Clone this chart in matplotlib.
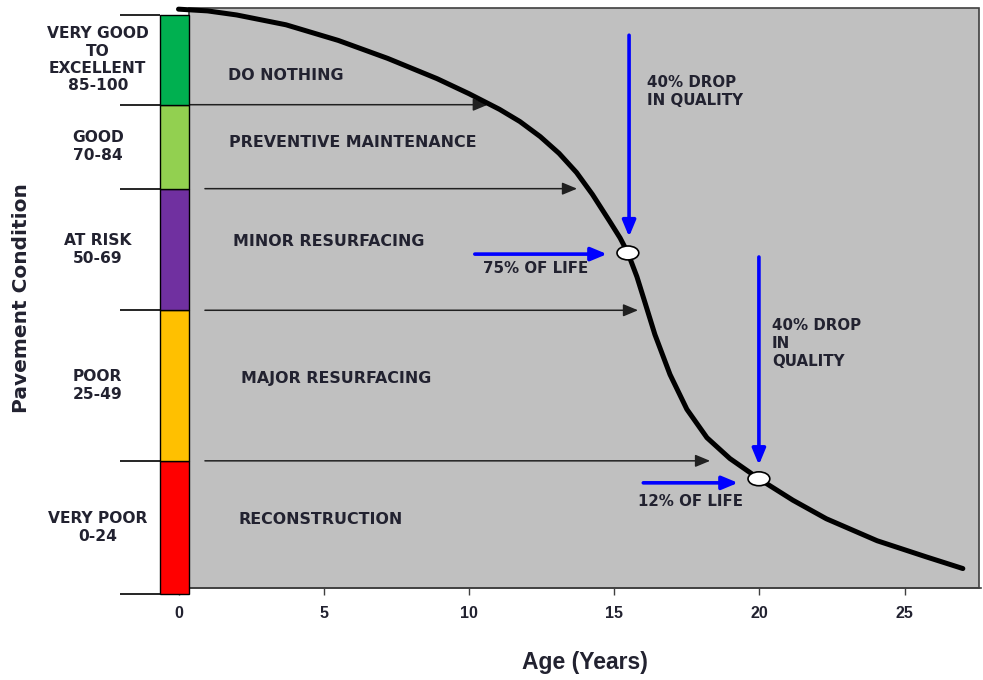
import matplotlib
matplotlib.use("Agg")
import matplotlib.pyplot as plt
from matplotlib.patches import Rectangle, Ellipse

# ---------------- data ----------------
band_edges = [0, 23, 49, 70, 84.5, 100]
band_colors = ["#FF0000", "#FFC000", "#7030A0", "#92D050", "#00B050"]
band_labels = ["VERY POOR\n0-24", "POOR\n25-49", "AT RISK\n50-69",
               "GOOD\n70-84", "VERY GOOD\nTO\nEXCELLENT\n85-100"]
treatments = ["RECONSTRUCTION", "MAJOR RESURFACING", "MINOR RESURFACING",
              "PREVENTIVE MAINTENANCE", "DO NOTHING"]

age = [0.0, 1.0, 2.0, 3.7, 5.5, 7.2, 8.9, 10.0, 11.05, 11.75, 12.45, 13.1,
       13.7, 14.25, 14.85, 15.2, 15.47, 15.78, 16.06, 16.4, 16.92, 17.5,
       18.19, 18.98, 19.98, 21.15, 22.3, 24.05, 25.75, 27.0]
condition = [101.0, 100.7, 100.0, 98.3, 95.6, 92.5, 89.0, 86.4, 83.7, 81.6,
             79.0, 76.1, 72.8, 69.0, 64.3, 61.5, 58.9, 54.8, 50.3, 44.8,
             37.9, 31.9, 27.0, 23.4, 19.9, 16.2, 13.0, 9.2, 6.4, 4.4]

# marked points on curve
mark_age = [15.47, 19.98]
mark_cond = [58.9, 19.9]

# threshold arrows (age at which the curve crosses each band boundary)
thr_cond = [84.5, 70, 49, 23]
thr_start = [0.36, 0.91, 0.91, 0.91]
thr_end = [10.65, 13.72, 15.82, 18.3]

xticks = [0, 5, 10, 15, 20, 25]

# ---------------- layout ----------------
W, H = 983, 680
fig = plt.figure(figsize=(W / 100, H / 100), dpi=100)
ax = fig.add_axes([160 / W, (H - 588) / H, 821 / W, 580 / H])
XMIN, XMAX = -0.637, 27.625
YMIN, YMAX = 1.04, 101.2
ax.set_xlim(XMIN, XMAX)
ax.set_ylim(YMIN, YMAX)
ax.set_facecolor("none")
for s in ["top", "right", "left"]:
    ax.spines[s].set_visible(False)
ax.spines["bottom"].set_bounds(0.36, XMAX)
ax.spines["bottom"].set_color("#404040")
ax.spines["bottom"].set_linewidth(1.2)
ax.set_yticks([])

GRAY_X0 = 0.36
ax.add_patch(Rectangle((GRAY_X0, YMIN), XMAX - GRAY_X0 - 0.08, YMAX - YMIN,
                       facecolor="#C0C0C0", edgecolor="#404040", lw=1.2,
                       zorder=0.5, clip_on=False))

TXT = "#222230"
FONT = "DejaVu Sans"
# colour bands
BAR_X0 = XMIN
for i in range(len(band_colors)):
    lo, hi = band_edges[i], band_edges[i + 1]
    ax.add_patch(Rectangle((BAR_X0, lo), GRAY_X0 - BAR_X0, hi - lo,
                           facecolor=band_colors[i], edgecolor="black",
                           lw=1.0, zorder=5, clip_on=False))
    ax.text(-2.78, (lo + hi) / 2, band_labels[i], ha="center", va="center",
            fontsize=11.2, fontweight="bold", color=TXT, linespacing=1.2,
            family=FONT, clip_on=False)
ax.hlines(band_edges, -2.01, BAR_X0, colors="black", lw=1.2, clip_on=False,
          zorder=5)

# treatment labels
treat_x = [2.08, 2.15, 1.88, 1.74, 1.71]
treat_y = [12.8, 37.3, 60.8, 77.9, 89.5]
for t, tx, ty in zip(treatments, treat_x, treat_y):
    ax.text(tx, ty, t, ha="left", va="center", fontsize=11.4,
            fontweight="bold", color=TXT, family=FONT)

# threshold arrows
for c, x0, x1 in zip(thr_cond, thr_start, thr_end):
    ax.annotate("", xy=(x1, c), xytext=(x0, c),
                arrowprops=dict(arrowstyle="-|>,head_length=0.6,head_width=0.25",
                                mutation_scale=15, lw=1.1, color="#202020",
                                shrinkA=0, shrinkB=0), zorder=2)

# deterioration curve
ax.plot(age, condition, color="black", lw=3.6, solid_capstyle="round",
        solid_joinstyle="round", zorder=3, clip_on=False)

for mx, my in zip(mark_age, mark_cond):
    ax.add_patch(Ellipse((mx, my), 0.75, 2.4, facecolor="white",
                         edgecolor="black", lw=1.2, zorder=4))

# blue arrows
BLUE = "#0000FF"
blue_arrows = [((15.51, 96.5), (15.51, 61.7)),
               ((10.2, 58.7), (14.75, 58.7)),
               ((19.98, 58.2), (19.98, 22.3)),
               ((16.0, 19.2), (19.26, 19.2))]
for (x0, y0), (x1, y1) in blue_arrows:
    ax.annotate("", xy=(x1, y1), xytext=(x0, y0),
                arrowprops=dict(arrowstyle="-|>,head_length=0.6,head_width=0.25",
                                mutation_scale=16, lw=2.6, color=BLUE,
                                shrinkA=0, shrinkB=0), zorder=4)

ANN = 10.8
ax.text(16.14, 86.7, "40% DROP\nIN QUALITY", ha="left", va="center",
        fontsize=ANN, fontweight="bold", color=TXT, linespacing=1.25,
        family=FONT)
ax.text(20.43, 43.2, "40% DROP\nIN\nQUALITY", ha="left", va="center",
        fontsize=ANN, fontweight="bold", color=TXT, linespacing=1.25,
        family=FONT)
ax.text(12.29, 56.3, "75% OF LIFE", ha="center", va="center",
        fontsize=ANN, fontweight="bold", color=TXT, family=FONT)
ax.text(17.64, 15.9, "12% OF LIFE", ha="center", va="center",
        fontsize=ANN, fontweight="bold", color=TXT, family=FONT)

# x axis
NARROW = ["Liberation Sans Narrow", "Liberation Sans", "DejaVu Sans"]
ax.set_xticks(xticks)
ax.set_xticklabels([str(v) for v in xticks])
ax.tick_params(axis="x", length=5, width=1.0, color="#404040", pad=8,
               labelsize=11.5, labelcolor=TXT)
for lab in ax.get_xticklabels():
    lab.set_family(NARROW)
    lab.set_fontweight("bold")

ax.set_xlabel("Age (Years)", fontsize=16.5, fontweight="bold", color=TXT,
              family=NARROW)
ax.xaxis.set_label_coords((585 - 160) / 821, (588 - 663) / 580)
ax.xaxis.label.set_va("center")
ax.set_ylabel("Pavement Condition", fontsize=14.5, fontweight="bold",
              color=TXT, family=FONT)
ax.yaxis.set_label_coords((22 - 160) / 821, (588 - 298) / 580)
ax.yaxis.label.set_va("center")

fig.savefig("out.png", dpi=100)
